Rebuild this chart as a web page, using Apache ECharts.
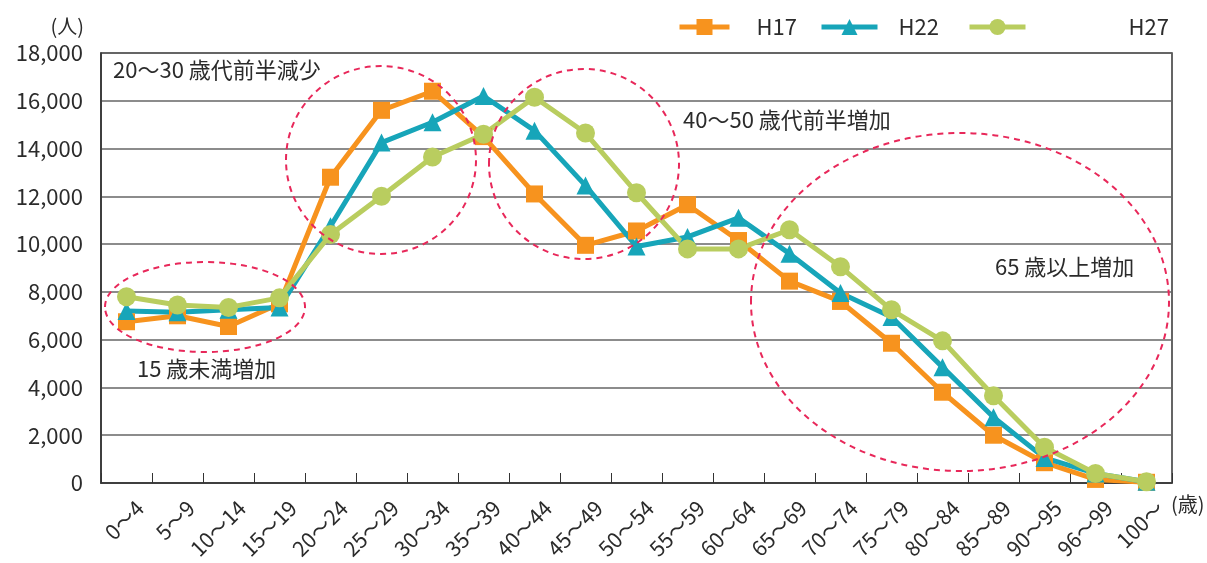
<!DOCTYPE html>
<html>
<head>
<meta charset="utf-8">
<script src="https://cdn.jsdelivr.net/npm/echarts@6/dist/echarts.min.js"></script>
<style>
  html, body { margin: 0; padding: 0; background: #fff; }
  #chart-box { width: 1207px; height: 563px; }
</style>
</head>
<body>
<div id="chart-box"></div>
<script>
// age groups (x axis)
const ageGroups = ["0〜4", "5〜9", "10〜14", "15〜19", "20〜24", "25〜29", "30〜34", "35〜39",
  "40〜44", "45〜49", "50〜54", "55〜59", "60〜64", "65〜69", "70〜74", "75〜79",
  "80〜84", "85〜89", "90〜95", "96〜99", "100〜"];

// population by year (人)
const h17 = [6750, 7000, 6550, 7500, 12800, 15600, 16400, 14500, 12100, 9950, 10550,
  11650, 10150, 8450, 7600, 5850, 3800, 2000, 850, 150, 30];
const h22 = [7200, 7150, 7250, 7350, 10750, 14250, 15100, 16200, 14750, 12450, 9900,
  10300, 11100, 9600, 7950, 6950, 4850, 2750, 1050, 400, 50];
const h27 = [7800, 7450, 7350, 7750, 10400, 12000, 13650, 14600, 16150, 14650, 12150,
  9800, 9800, 10600, 9050, 7250, 5950, 3650, 1500, 400, 50];

const yMax = 18000;
const yStep = 2000;

const font = "'Noto Sans CJK JP', 'Noto Sans', sans-serif";
const textColor = "#2b2b2b";
const dashRed = "#e8285a";

const chart = echarts.init(document.getElementById("chart-box"));

function makeSeries(name, data, symbol, size, color) {
  return {
    name: name,
    type: "line",
    data: data,
    symbol: symbol,
    symbolSize: size,
    showAllSymbol: true,
    lineStyle: { width: 5, color: color },
    itemStyle: { color: color },
    emphasis: { disabled: true },
  };
}

function legendItem(name, left, width, gap) {
  return {
    data: [name],
    left: left, top: 11,
    itemWidth: width, itemHeight: 20,
    lineStyle: { width: 5 },
    textStyle: { fontFamily: font, fontSize: 22, color: textColor, padding: [0, 0, 0, gap] },
  };
}

// dashed rings round the areas of note
function ring(cx, cy, rx, ry) {
  return {
    type: "ellipse",
    shape: { cx: cx, cy: cy, rx: rx, ry: ry },
    style: { fill: "none", stroke: dashRed, lineWidth: 2, lineDash: [6, 5] },
    z: 100,
  };
}

function note(text, left, top) {
  return { type: "text", left: left, top: top, style: { text: text, font: "22px " + font, fill: textColor } };
}

const option = {
  animation: false,
  legend: [
    legendItem("H17", 672, 50, 22),
    legendItem("H22", 814, 56, 16),
    legendItem("H27", 962, 56, 98),
  ],
  grid: {
    left: 101, right: 35, top: 53, bottom: 80,
    show: true,
    borderColor: "#333",
    borderWidth: 1.5,
    outerBoundsMode: "none",
  },
  xAxis: {
    type: "category",
    data: ageGroups,
    boundaryGap: true,
    axisLine: { lineStyle: { color: "#333", width: 1.5 } },
    axisTick: { show: true, inside: true, length: 10, interval: 0, lineStyle: { color: "#333" } },
    axisLabel: {
      interval: 0, rotate: 45, margin: 8,
      verticalAlign: "top", lineHeight: 38,
      fontFamily: font, fontSize: 21, color: textColor,
    },
  },
  yAxis: {
    type: "value",
    min: 0, max: yMax, interval: yStep,
    axisLine: { show: true, lineStyle: { color: "#333", width: 1.5 } },
    axisTick: { show: false },
    axisLabel: { margin: 18, fontFamily: font, fontSize: 22, color: textColor },
    splitLine: { lineStyle: { color: "#666", width: 1.5 } },
  },
  series: [
    makeSeries("H17", h17, "rect", 17, "#f7931e"),
    makeSeries("H22", h22, "triangle", 18, "#17a5b9"),
    makeSeries("H27", h27, "circle", 19, "#b9cd5f"),
  ],
  graphic: [
    { type: "text", right: 1207 - 84, top: 16, style: { text: "(人)", font: "20px " + font, fill: textColor } },
    { type: "text", left: 1171, top: 494, style: { text: "(歳)", font: "20px " + font, fill: textColor } },
    note("20〜30 歳代前半減少", 113, 59),
    note("40〜50 歳代前半増加", 683, 109),
    note("65 歳以上増加", 995, 256),
    note("15 歳未満増加", 137, 358),
    ring(205, 307, 100, 45),
    ring(381, 160, 95, 94),
    ring(584, 164, 95, 95),
    ring(960, 302, 209, 169),
  ],
};

chart.setOption(option);
</script>
</body>
</html>
